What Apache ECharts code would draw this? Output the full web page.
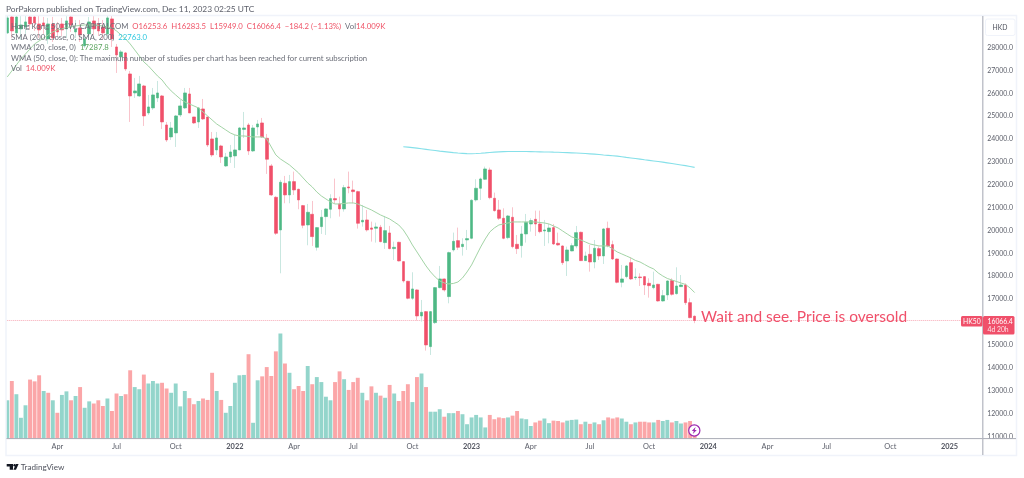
<!DOCTYPE html>
<html><head><meta charset="utf-8">
<style>html,body{margin:0;padding:0;background:#fff}#c{width:1024px;height:478px}</style>
<script src="https://cdn.jsdelivr.net/npm/echarts@6/dist/echarts.min.js"></script>
</head><body><div id="c"></div>
<script>
const tickIndex=[11,24,37,50,63,76,89,102,115,128,141,154,167,180,194,207];
const tickLabels=['Apr','Jul','Oct','2022','Apr','Jul','Oct','2023','Apr','Jul','Oct','2024','Apr','Jul','Oct','2025'];
const opens=[
28643,29342,28643,28818,28905,29342,29342,29036,29080,28380,
29036,28818,29036,28818,29342,28686,28861,28074,28599,29168,
29036,28905,28599,29255,28030,27593,27768,26849,26018,25887,
26324,25143,25362,25800,25887,24618,24094,24269,25056,25362,
25974,24968,24750,25318,24968,24006,23525,23700,22825,23219,
23263,23525,24422,24618,23481,24531,24706,24036,22826,21455,
20027,22068,21558,22141,21805,21091,20245,20712,19268,20172,
20610,20931,21397,21164,20945,21907,21776,21703,20377,20464,
20114,20100,20143,19473,19895,19210,19487,18641,17781,17038,
17402,16265,16454,14924,15973,17504,17883,17111,19152,19560,
19298,19589,19662,21339,21848,22242,22650,21411,20901,20536,
19690,20580,19399,19341,19851,20288,20492,20288,19982,19953,
20128,19443,19326,18670,19107,19326,19924,18684,18961,18626,
19209,18889,20099,19384,18757,17737,17985,18597,17941,17970,
17985,17693,17503,17649,16920,17183,17810,17241,17547,17620,
16847,16253.6];
const closes=[
29299,28730,29342,28992,29124,29036,29080,28774,28949,29036,
28424,28686,28774,29168,28992,28818,28555,28380,29124,28818,
28730,28643,29299,28380,27680,27812,27068,25887,26106,26412,
25012,25406,25931,26018,24750,23962,24487,25012,25450,26018,
25143,24706,25362,24881,23744,23306,24050,23219,23219,23438,
23525,24487,24487,23481,24487,24662,24094,23118,21558,19881,
22112,21558,22141,21776,21339,20231,20799,19735,20129,20581,
20945,21397,21339,20945,21878,21864,21703,20318,20449,20027,
20056,20158,19516,19997,19210,19268,18671,17796,17038,17446,
16265,16425,14996,16454,17504,17883,17402,19035,19531,19268,
19400,19648,21324,21849,22257,22694,21440,20871,20536,19661,
20638,19297,19209,19851,20361,20434,20288,19953,20026,20113,
19413,19370,18597,19151,19341,19909,18684,18889,18626,19224,
18889,20070,19326,18757,17737,17883,18451,17883,17970,17941,
17620,17591,17620,16920,17154,17795,17212,17576,17620,16847,
16191,16066.4];
const highs=[
29386,29386,29386,29386,29386,29386,29386,29386,29342,29299,
29342,29124,29299,29386,29386,29211,29211,28555,29342,29386,
29299,29211,29386,29386,28161,27899,27812,26980,26674,26762,
26368,25931,26237,26543,25931,24750,24750,25056,25712,26237,
26237,24968,25406,25756,24968,24312,24312,23750,23394,23744,
24181,24531,25187,24706,24618,24837,24925,24226,22913,21500,
22214,22389,22432,22578,21830,21120,21164,21295,20150,20901,
20974,21587,22272,21485,21995,22578,22184,21740,21120,20901,
20391,20347,20245,20639,20202,19516,19510,18660,17800,18175,
17430,16965,16480,16480,17530,18452,17900,19079,19910,20129,
19662,20027,21368,22243,22315,22796,22752,21659,21338,20973,
20682,21017,19807,20201,20726,20536,20871,20871,20463,20288,
20288,19909,19350,19297,19443,20201,19953,19078,19370,19588,
19297,20099,20390,19559,18780,18495,18495,18830,18349,18130,
18000,17912,18203,17670,17401,17820,17912,18393,18057,17693,
17037,16283.5];
const lows=[
28599,28424,28511,28336,28599,28774,28730,28424,28599,28161,
28249,28511,28511,28424,28686,28424,28249,27986,28336,28555,
28511,28336,28424,28030,26893,27374,26980,24750,25800,25843,
24575,25056,25275,25625,24443,23875,23962,23656,24968,25318,
25143,24662,24487,24837,23656,23219,23306,22956,22781,22956,
22738,23525,24050,23306,23438,24181,24050,22476,21514,19808,
18131,21193,21193,21558,20931,20100,19356,19327,19123,19852,
19808,20537,21193,20610,20828,21630,21193,20085,20172,19954,
19516,19473,19487,19196,19181,18714,18650,17723,16994,16965,
16061,16017,14749,14559,15915,17475,17329,16819,19079,19152,
18904,19152,19619,21266,21338,22213,21367,20828,20463,19618,
19618,19224,18976,18816,19472,19953,19763,19880,19326,19443,
19370,19340,18495,18014,19090,19224,18670,18670,18203,18349,
18714,18539,19268,18714,17693,17518,17912,17839,17839,17576,
17183,17066,17431,16891,16891,16964,17154,17197,17530,16745,
16162,15949];
const volumes=[
107,161,124,58,93,165,160,177,133,128,
107,72,122,132,107,119,144,86,104,98,
107,91,112,77,126,119,124,191,144,138,
179,154,161,154,156,140,128,154,90,133,
113,96,105,112,108,184,133,108,72,91,
156,177,178,236,44,163,174,200,175,244,
294,210,184,138,147,133,203,152,172,158,
117,107,158,188,166,136,158,170,128,107,
146,128,120,114,150,126,105,133,152,102,
172,182,144,75,75,82,61,71,71,77,
68,40,59,66,59,31,66,54,59,57,
59,64,77,56,54,35,45,50,56,43,
50,49,45,50,52,53,40,47,41,45,
40,51,59,56,59,56,47,40,45,47,
47,45,45,52,49,52,45,49,42,45,
49,14.009];
const volumeSide=('TPTTTPPPTP TPTTPTPTTP PPTPPTPPTT PTTTPPTTTT PPTPPPTPTT TTTPTTPPPP '+
'TPTPPPTPTT TTPPTPPPTP PTPTPTPPPT PTPTTTPTTP TTTTTTPPPP TPPTTTPPTT '+
'PPPTTTPTPT PTPPPTTPTP PPTPTTPTTP PP').replace(/ /g,'').split('');
const wma20=[
26718,26980,27243,27505,27724,27943,28161,28293,28424,28555,
28686,28774,28818,28883,28905,28949,28971,28992,28992,28992,
28971,28949,28905,28861,28730,28555,28380,28161,27899,27637,
27374,27199,26980,26762,26587,26324,26106,25931,25756,25625,
25537,25450,25362,25187,25012,24837,24662,24531,24400,24269,
24181,24137,24137,24116,24094,24094,24094,24006,23656,23306,
23131,23000,22869,22694,22519,22300,22082,21907,21688,21513,
21382,21251,21163,21163,21185,21207,21207,21163,21076,20988,
20901,20791,20682,20594,20507,20376,20244,20026,19720,19370,
19064,18757,18451,18189,17970,17795,17708,17664,17686,17751,
17926,18189,18495,18889,19282,19632,19938,20113,20244,20288,
20332,20376,20376,20376,20376,20376,20376,20354,20332,20288,
20201,20113,19982,19851,19720,19654,19588,19501,19413,19370,
19326,19326,19326,19195,19064,18976,18889,18801,18692,18626,
18517,18407,18320,18145,18014,17904,17839,17773,17708,17642,
17489,17287.8];
const sma200=[
23665,23648,23626,23604,23577,23551,23525,23499,23473,23451,
23429,23407,23390,23376,23363,23359,23368,23381,23398,23416,
23429,23442,23451,23455,23459,23459,23459,23455,23451,23446,
23442,23438,23434,23429,23425,23416,23407,23398,23390,23381,
23368,23355,23341,23324,23306,23289,23271,23254,23228,23201,
23175,23149,23123,23096,23070,23044,23018,22991,22961,22930,
22900,22869,22838,22803,22763];
const smaStart=87;
const lastClose=16066.4;

const RED='#f0506a',GREEN='#4eb885',WICK_R='#f9c4cc',WICK_G='#c9e7e0';
const VOL_R='#fba6a8',VOL_G='#93d5cb';
const FONT='Lato,"Open Sans",sans-serif';
const n=215;
const categories=[];
for(let i=0;i<n;i++){const k=tickIndex.indexOf(i);categories.push(k>=0?tickLabels[k]:'w'+i);}
const wick=opens.map((o,i)=>[o,closes[i],lows[i],highs[i]]);
const body=opens.map((o,i)=>[o,closes[i],Math.min(o,closes[i]),Math.max(o,closes[i])]);
const vol=volumes.map((v,i)=>({value:v,itemStyle:{color:volumeSide[i]==='T'?VOL_G:VOL_R}}));
const smaData=categories.map((c,i)=>(i>=smaStart&&i-smaStart<sma200.length)?sma200[i-smaStart]:null);
const lastLine=categories.map(()=>lastClose);

const chart=echarts.init(document.getElementById('c'),null,{renderer:'canvas',width:1024,height:478});
const candleCommon={type:'candlestick',xAxisIndex:0,yAxisIndex:0,silent:true,animation:false};
const L='7.75px '+FONT;
const A='6.8px '+FONT;
chart.setOption({
 animation:false,backgroundColor:'#ffffff',
 grid:[
  {left:5,top:1.9,width:978.68,height:457.3},
  {left:5,top:16,width:978.68,height:422.5}
 ],
 xAxis:[
  {type:'category',gridIndex:0,data:categories,show:false,boundaryGap:false,boundaryGap:true},
  {type:'category',gridIndex:1,data:categories,boundaryGap:true,
   axisLine:{show:false},axisTick:{show:false},splitLine:{show:false},
   axisLabel:{show:true,margin:5,hideOverlap:false,interval:(i)=>tickIndex.indexOf(i)>=0,
    color:'#5d606b',fontSize:7.4,fontFamily:FONT,
    formatter:(v)=>/^20/.test(v)?'{y|'+v+'}':v,
    rich:{y:{fontWeight:'700',color:'#50535e',fontSize:7.4,fontFamily:FONT}}}}
 ],
 yAxis:[
  {type:'value',gridIndex:0,position:'right',min:10000,max:30000,interval:1000,scale:true,
   axisLine:{show:false},axisTick:{show:false},splitLine:{show:false},
   axisLabel:{margin:3.6,color:'#5d606b',fontSize:6.9,fontFamily:FONT,
    formatter:(v)=>(v>=11000&&v<=28000)?v.toFixed(1):''}},
  {type:'value',gridIndex:1,show:false,min:0,max:1183,splitLine:{show:false}}
 ],
 series:[
  {type:'bar',name:'Vol',xAxisIndex:1,yAxisIndex:1,data:vol,barWidth:3.9,silent:true,animation:false,z:1},
  {type:'line',name:'Last',xAxisIndex:0,yAxisIndex:0,data:lastLine,showSymbol:false,silent:true,z:1,
   lineStyle:{color:'#f7a8b5',type:'dotted',width:1},animation:false},
  Object.assign({},candleCommon,{name:'wick',data:wick,barWidth:1,z:2,
    itemStyle:{color:WICK_G,color0:WICK_R,borderColor:WICK_G,borderColor0:WICK_R,borderWidth:1}}),
  Object.assign({},candleCommon,{name:'Hong Kong 50',data:body,barWidth:3.1,z:3,
    itemStyle:{color:GREEN,color0:RED,borderColor:GREEN,borderColor0:RED,borderWidth:0.6}}),
  {type:'line',name:'WMA 20',xAxisIndex:0,yAxisIndex:0,data:wma20,showSymbol:false,silent:true,z:4,
   lineStyle:{color:'#a3d4a6',width:1},animation:false},
  {type:'line',name:'SMA 200',xAxisIndex:0,yAxisIndex:0,data:smaData,showSymbol:false,silent:true,z:4,
   lineStyle:{color:'#86e0e9',width:1.1},animation:false}
 ],
 graphic:[
  {type:'rect',z:30,silent:true,shape:{x:0,y:13,width:6.2,height:444},style:{fill:'#fff'}},
  {type:'rect',z:31,silent:true,shape:{x:6,y:15.5,width:1010.5,height:440},style:{fill:'none',stroke:'#f0f3fa',lineWidth:1.5}},
  {type:'line',z:31,silent:true,shape:{x1:6.5,y1:438.6,x2:1016,y2:438.6},style:{stroke:'#a9acb5',lineWidth:1}},
  {type:'line',z:31,silent:true,shape:{x1:982.8,y1:16,x2:982.8,y2:455},style:{stroke:'#b2b5be',lineWidth:1.2}},
  {type:'rect',z:32,silent:true,shape:{x:985.5,y:19,width:29.5,height:16.5,r:2},style:{fill:'#fff',stroke:'#f0f3fa',lineWidth:1}},
  {type:'text',z:33,silent:true,x:1000,y:27.5,style:{text:'HKD',font:A,fill:'#50535e',align:'center',verticalAlign:'middle'}},
  {type:'text',z:33,silent:true,x:6,y:9,style:{text:'PorPakorn published on TradingView.com, Dec 11, 2023 02:25 UTC',font:'8.4px '+FONT,fill:'#5d606b',verticalAlign:'middle'}},
  {type:'text',z:33,silent:true,x:11,y:26.5,style:{font:L,verticalAlign:'middle',
    text:'{g|Hong Kong 50, 1W, CAPITALCOM}  {r|O16253.6  H16283.5  L15949.0  C16066.4  −184.2 (−1.13%)}  {g|Vol}{r|14.009K}',
    rich:{g:{fill:'#6b6e78',font:L},r:{fill:'#ef5367',font:L}}}},
  {type:'text',z:33,silent:true,x:11,y:37,style:{font:L,verticalAlign:'middle',
    text:'{g|SMA (200, close, 0, SMA, 200)}  {c|22763.0}',
    rich:{g:{fill:'#6b6e78',font:L},c:{fill:'#2fc8df',font:L}}}},
  {type:'text',z:33,silent:true,x:11,y:47.7,style:{font:L,verticalAlign:'middle',
    text:'{g|WMA (20, close, 0)}  {c|17287.8}',
    rich:{g:{fill:'#6b6e78',font:L},c:{fill:'#5fa663',font:L}}}},
  {type:'text',z:33,silent:true,x:11,y:58,style:{text:'WMA (50, close, 0): The maximum number of studies per chart has been reached for current subscription',font:L,fill:'#6b6e78',verticalAlign:'middle'}},
  {type:'text',z:33,silent:true,x:11,y:68.5,style:{font:L,verticalAlign:'middle',
    text:'{g|Vol}  {r|14.009K}',
    rich:{g:{fill:'#6b6e78',font:L},r:{fill:'#ef5367',font:L}}}},
  {type:'text',z:33,silent:true,x:701,y:317,style:{text:'Wait and see. Price is oversold',font:'15.5px '+FONT,fill:'#f0506a',verticalAlign:'middle'}},
  {type:'rect',z:34,silent:true,shape:{x:961,y:316,width:21.5,height:10.5,r:1.5},style:{fill:'#f0506a'}},
  {type:'text',z:35,silent:true,x:971.8,y:321.5,style:{text:'HK50',font:A,fill:'#fff',align:'center',verticalAlign:'middle'}},
  {type:'rect',z:34,silent:true,shape:{x:983,y:316,width:31.5,height:18.5,r:1.5},style:{fill:'#f0506a'}},
  {type:'text',z:35,silent:true,x:987.5,y:321.5,style:{text:'16066.4',font:A,fill:'#fff',verticalAlign:'middle'}},
  {type:'text',z:35,silent:true,x:987.5,y:329.5,style:{text:'4d 20h',font:A,fill:'#fde3e7',verticalAlign:'middle'}},
  {type:'circle',z:36,silent:true,shape:{cx:694.3,cy:430.5,r:5.6},style:{fill:'#fff',stroke:'#9c27b0',lineWidth:1.2}},
  {type:'polygon',z:37,silent:true,shape:{points:[[695.6,427],[691.8,431],[693.8,431],[692.8,434],[696.8,430],[694.7,430]]},style:{fill:'#9c27b0'}},
  {type:'polygon',z:33,silent:true,shape:{points:[[6.7,464],[13,464],[13,469.7],[9.7,469.7],[9.7,466.5],[6.7,466.5]]},style:{fill:'#131722'}},
  {type:'circle',z:33,silent:true,shape:{cx:14.6,cy:465.2,r:1.2},style:{fill:'#131722'}},
  {type:'polygon',z:33,silent:true,shape:{points:[[16,464],[18.6,464],[16,469.7],[13.4,469.7]]},style:{fill:'#131722'}},
  {type:'text',z:33,silent:true,x:20.7,y:467,style:{text:'TradingView',font:'8.1px '+FONT,fill:'#50535e',verticalAlign:'middle'}}
 ]
});
</script></body></html>
